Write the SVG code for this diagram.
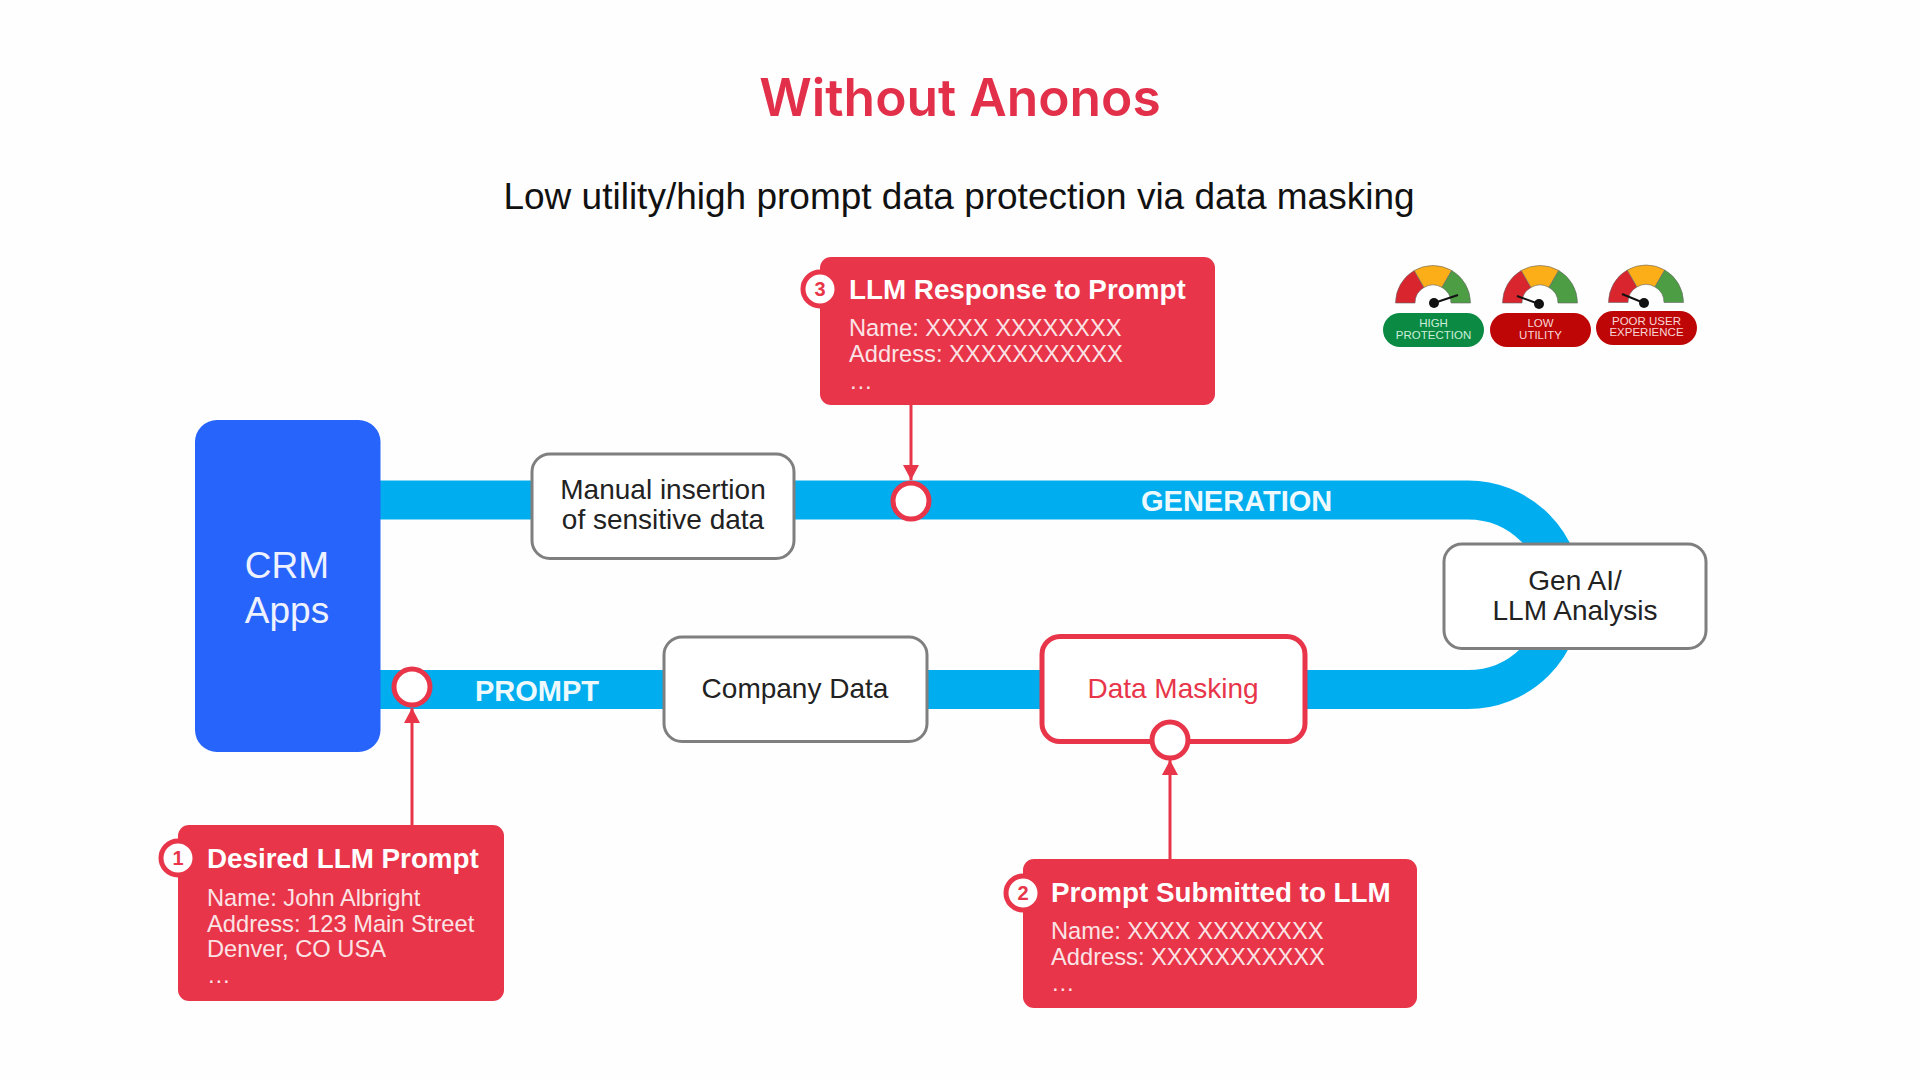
<svg xmlns="http://www.w3.org/2000/svg" width="1920" height="1080" viewBox="0 0 1920 1080">
<style>
text{font-family:"Liberation Sans",Arial,sans-serif}
.title{font-family:Inter,"Noto Sans",sans-serif;font-size:51.5px;font-weight:600;fill:#e2304a;text-anchor:middle}
.sub{font-size:37px;fill:#111;text-anchor:middle}
.node{fill:#fff;stroke:#7f7f7f;stroke-width:3}
.nt{font-size:28px;fill:#222;text-anchor:middle}
.card{fill:#e83549}
.ct{font-size:27.800px;font-weight:700;fill:#fff}
.cb{font-size:23.700px;fill:#fbe3e5}
.num{fill:#fff;stroke:#e83549;stroke-width:5}
.nn{font-size:20px;font-weight:700;fill:#e83549;text-anchor:middle}
.dot{fill:#fff;stroke:#e83549;stroke-width:5}
.band{font-size:29px;font-weight:700;fill:#eef9fd}
.arrow{stroke:#e83549;stroke-width:3;fill:none;marker-end:url(#ah)}
.gl{font-size:11.500px;fill:#f6d6d6;text-anchor:middle}
.r{fill:#d9252e}.o{fill:#fbae17}.g{fill:#4d9d45}
.needle{stroke:#111;stroke-width:2;fill:none}
.arc{stroke:#666;stroke-width:.6}
</style>
<defs>
<marker id="ah" markerUnits="userSpaceOnUse" markerWidth="16" markerHeight="16" refX="15" refY="8" orient="auto"><path d="M0 0L15 8L0 16Z" fill="#e83549"/></marker>
<g id="arcs">
<path class="r arc" d="M-37.500 0A37.500 37.500 0 0 1 -18.750 -32.500L-9 -15.600A18 18 0 0 0 -18 0Z"/>
<path class="o arc" d="M-18.750 -32.500A37.500 37.500 0 0 1 18.750 -32.500L9 -15.600A18 18 0 0 0 -9 -15.600Z"/>
<path class="g arc" d="M18.750 -32.500A37.500 37.500 0 0 1 37.500 0L18 0A18 18 0 0 0 9 -15.600Z"/>
</g>
</defs>
<rect width="1920" height="1080" fill="#fefefe"/>
<text class="title" x="960" y="116">Without Anonos</text>
<text class="sub" x="959" y="209">Low utility/high prompt data protection via data masking</text>

<g id="connectors">
<path id="pipe" d="M380 500H1468A94.750 94.750 0 0 1 1468 689.500H380" fill="none" stroke="#00aeef" stroke-width="39"/>
<path class="arrow" d="M412 825V708"/>
<path class="arrow" d="M1170 859V760"/>
<path class="arrow" d="M911 405V480"/>
</g>
<text class="band" x="475" y="701">PROMPT</text>
<text class="band" x="1141" y="511">GENERATION</text>

<g id="crm">
<rect x="195" y="420" width="185.500" height="332" rx="22" fill="#2764fb"/>
<text x="287" y="578" font-size="37" fill="#eef2ff" text-anchor="middle">CRM</text>
<text x="287" y="623" font-size="37" fill="#eef2ff" text-anchor="middle">Apps</text>
</g>
<g id="manual">
<rect class="node" x="532" y="454" width="262" height="104.500" rx="18"/>
<text class="nt" x="663" y="499">Manual insertion</text>
<text class="nt" x="663" y="529">of sensitive data</text>
</g>
<g id="company">
<rect class="node" x="664" y="637" width="263" height="104.500" rx="18"/>
<text class="nt" x="795" y="698">Company Data</text>
</g>
<g id="masking">
<rect x="1042" y="636.500" width="263" height="105" rx="18" fill="#fff" stroke="#e83549" stroke-width="5"/>
<text class="nt" x="1173" y="698" style="fill:#e83549">Data Masking</text>
</g>
<g id="genai">
<rect class="node" x="1444" y="544" width="262" height="104.500" rx="18"/>
<text class="nt" x="1575" y="590">Gen AI/</text>
<text class="nt" x="1575" y="620">LLM Analysis</text>
</g>

<g id="dot-prompt"><circle class="dot" cx="412" cy="687" r="18"/></g>
<g id="dot-masking"><circle class="dot" cx="1170" cy="740" r="18"/></g>
<g id="dot-generation"><circle class="dot" cx="911" cy="501" r="18"/></g>

<g id="card1">
<rect class="card" x="178" y="825" width="326" height="176" rx="11"/>
<circle class="num" cx="178" cy="858" r="17"/>
<text class="nn" x="178" y="865">1</text>
<text class="ct" x="207" y="868">Desired LLM Prompt</text>
<text class="cb" x="207" y="906">Name: John Albright</text>
<text class="cb" x="207" y="932">Address: 123 Main Street</text>
<text class="cb" x="207" y="957">Denver, CO USA</text>
<text class="cb" x="207" y="983">…</text>
</g>
<g id="card2">
<rect class="card" x="1023" y="859" width="394" height="149" rx="11"/>
<circle class="num" cx="1023" cy="893" r="17"/>
<text class="nn" x="1023" y="900">2</text>
<text class="ct" x="1051" y="902">Prompt Submitted to LLM</text>
<text class="cb" x="1051" y="939">Name: XXXX XXXXXXXX</text>
<text class="cb" x="1051" y="965">Address: XXXXXXXXXXX</text>
<text class="cb" x="1051" y="991">…</text>
</g>
<g id="card3">
<rect class="card" x="820" y="257" width="395" height="148" rx="11"/>
<circle class="num" cx="820" cy="289" r="17"/>
<text class="nn" x="820" y="296">3</text>
<text class="ct" x="849" y="299">LLM Response to Prompt</text>
<text class="cb" x="849" y="336">Name: XXXX XXXXXXXX</text>
<text class="cb" x="849" y="362">Address: XXXXXXXXXXX</text>
<text class="cb" x="849" y="389">…</text>
</g>

<g id="gauge-protection">
<use href="#arcs" x="1433" y="303"/>
<path class="needle" d="M1434 303L1458 295"/><circle cx="1434" cy="303" r="5" fill="#111"/>
<rect x="1383" y="313" width="101" height="34" rx="17" fill="#0b8a43"/>
<text class="gl" x="1433.500" y="327" style="fill:#cdeeda">HIGH</text>
<text class="gl" x="1433.500" y="339" style="fill:#cdeeda">PROTECTION</text>
</g>
<g id="gauge-utility">
<use href="#arcs" x="1540" y="303"/>
<path class="needle" d="M1539 304L1517 296"/><circle cx="1539" cy="304" r="5" fill="#111"/>
<rect x="1490" y="313" width="101" height="34" rx="17" fill="#bf0606"/>
<text class="gl" x="1540.500" y="327">LOW</text>
<text class="gl" x="1540.500" y="339">UTILITY</text>
</g>
<g id="gauge-experience">
<use href="#arcs" x="1646" y="302.500"/>
<path class="needle" d="M1644 303L1622 294"/><circle cx="1644" cy="303" r="5" fill="#111"/>
<rect x="1596" y="311" width="101" height="34" rx="17" fill="#bf0606"/>
<text class="gl" x="1646.500" y="325">POOR USER</text>
<text class="gl" x="1646.500" y="336">EXPERIENCE</text>
</g>
</svg>
